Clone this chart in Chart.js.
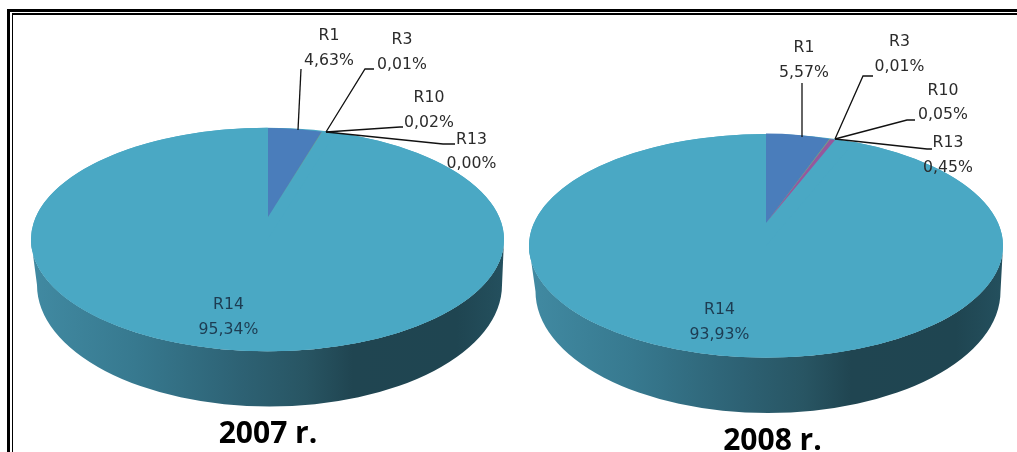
<!DOCTYPE html>
<html>
<head>
<meta charset="utf-8">
<title>R1–R14, 2007 r. / 2008 r.</title>
<script src="https://cdn.jsdelivr.net/npm/chart.js@4"></script>
<style>
  html, body { margin: 0; padding: 0; background: #fff; width: 1017px; height: 452px; overflow: hidden; }
  canvas { position: absolute; top: 0; }
  .rule { position: absolute; background: #000; z-index: 2; }
</style>
</head>
<body>
<div class="rule" style="left:7px;top:9px;width:1010px;height:3px"></div>
<div class="rule" style="left:12px;top:13px;width:1005px;height:2px"></div>
<div class="rule" style="left:7px;top:9px;width:3px;height:443px"></div>
<div class="rule" style="left:12px;top:13px;width:1px;height:439px"></div>
<canvas id="pie2007" width="516" height="452" style="left:0"></canvas>
<canvas id="pie2008" width="501" height="452" style="left:516px"></canvas>
<script>
// Shares by category
const categories = ['R1', 'R3', 'R10', 'R13', 'R14'];
const values2007 = [4.63, 0.01, 0.02, 0.00, 95.34];
const values2008 = [5.57, 0.01, 0.05, 0.45, 93.93];
const sliceColors = ['#4a7dbb', '#b0505a', '#8fae58', '#96589c', '#4aa8c4'];

// Page geometry of each tilted pie
const view2007 = {
  left: 0, title: '2007 r.', titleAt: [268, 443],
  top: { cx: 267.5, cy: 239.5, rx: 236.5, ry: 111.8 },
  foot: { cx: 269.5, cy: 285, rx: 232.5, ry: 121.5 },
  apex: { cx: 268, cy: 217, rx: 187, ry: 89 },
  labels: [[329, 40, 65], [402, 44, 69], [429, 102, 127], [471.5, 144, 168], [228.5, 309, 334]],
  leaders: [
    [[298, 130], [301, 69]],
    [[326, 132], [365, 69], [374, 69]],
    [[326, 132], [400, 127], [403, 127]],
    [[326, 132], [443, 144], [455, 144]]
  ]
};
const view2008 = {
  left: 516, title: '2008 r.', titleAt: [772.5, 450],
  top: { cx: 766, cy: 245.8, rx: 237, ry: 111.8 },
  foot: { cx: 768, cy: 291.5, rx: 232.5, ry: 121.5 },
  apex: { cx: 766, cy: 223, rx: 185, ry: 89.4 },
  labels: [[804, 52, 77], [899.5, 46, 71], [943, 95, 119], [948, 147, 172], [719.5, 314, 339]],
  leaders: [
    [[802, 137], [802, 83]],
    [[835, 139], [863, 76], [873, 76]],
    [[835, 139], [907, 120], [915, 120]],
    [[835, 139], [927, 149], [932, 149]]
  ]
};

const labelFont = '15.7px "DejaVu Sans"';
const titleFont = 'bold 30px "Open Sans"';
const percent = v => v.toFixed(2).replace('.', ',') + '%';

// Squashes a circular arc into the ellipse given by e
function squash(ctx, arc, e) {
  ctx.translate(e.cx, e.cy);
  ctx.scale(e.rx / arc.outerRadius, e.ry / arc.outerRadius);
  ctx.translate(-arc.x, -arc.y);
}

// Side wall of the pie: front half of the top rim down to the front half of the foot
function drawWall(ctx, view) {
  const { top, foot } = view;
  const g = ctx.createLinearGradient(top.cx - top.rx, 0, top.cx + top.rx, 0);
  g.addColorStop(0.00, '#418aa2');
  g.addColorStop(0.22, '#37798f');
  g.addColorStop(0.45, '#2d6173');
  g.addColorStop(0.58, '#285563');
  g.addColorStop(0.68, '#204551');
  g.addColorStop(0.90, '#1f4551');
  g.addColorStop(1.00, '#24505e');
  ctx.fillStyle = g;
  ctx.beginPath();
  ctx.ellipse(top.cx, top.cy, top.rx, top.ry, 0, Math.PI, 0, true);
  ctx.lineTo(foot.cx + foot.rx, foot.cy);
  ctx.ellipse(foot.cx, foot.cy, foot.rx, foot.ry, 0, 0, Math.PI, false);
  ctx.closePath();
  ctx.fill();
}

function tiltedPie(view) {
  return {
    id: 'tiltedPie',
    // The big slice follows the rim ellipse; the thin ones fan out from the off-centre apex
    beforeDatasetDraw(chart, args) {
      const ctx = chart.ctx;
      const arcs = chart.getDatasetMeta(args.index).data;
      const big = values => values.indexOf(Math.max(...values));
      const mainIndex = big(chart.data.datasets[args.index].data);
      ctx.save();
      ctx.translate(-view.left, 0);
      drawWall(ctx, view);
      ctx.fillStyle = sliceColors[mainIndex];
      ctx.beginPath();
      ctx.ellipse(view.top.cx, view.top.cy, view.top.rx, view.top.ry, 0, 0, Math.PI * 2);
      ctx.fill();
      arcs.forEach((arc, i) => {
        ctx.save();
        squash(ctx, arc, i === mainIndex ? view.top : view.apex);
        arc.draw(ctx, chart.chartArea);
        ctx.restore();
      });
      ctx.restore();
      return false;
    },
    afterDraw(chart) {
      const ctx = chart.ctx;
      const values = chart.data.datasets[0].data;
      ctx.save();
      ctx.translate(-view.left, 0);
      ctx.strokeStyle = '#111';
      ctx.lineWidth = 1.3;
      view.leaders.forEach(path => {
        ctx.beginPath();
        path.forEach(([x, y], i) => (i ? ctx.lineTo(x, y) : ctx.moveTo(x, y)));
        ctx.stroke();
      });
      ctx.textAlign = 'center';
      ctx.textBaseline = 'alphabetic';
      ctx.font = labelFont;
      chart.data.labels.forEach((name, i) => {
        const [x, y1, y2] = view.labels[i];
        ctx.fillStyle = i === 4 ? '#1d3c52' : '#2b2b2b';
        ctx.fillText(name, x, y1);
        ctx.fillText(percent(values[i]), x, y2);
      });
      ctx.font = titleFont;
      ctx.fillStyle = '#000';
      ctx.fillText(view.title, view.titleAt[0], view.titleAt[1]);
      ctx.restore();
    }
  };
}

function makeChart(id, values, view) {
  return new Chart(document.getElementById(id), {
    type: 'pie',
    data: {
      labels: categories,
      datasets: [{ data: values, backgroundColor: sliceColors, borderWidth: 0 }]
    },
    options: {
      responsive: false,
      animation: false,
      radius: 150,
      plugins: { legend: { display: false }, tooltip: { enabled: false } }
    },
    plugins: [tiltedPie(view)]
  });
}

makeChart('pie2007', values2007, view2007);
makeChart('pie2008', values2008, view2008);
</script>
</body>
</html>
